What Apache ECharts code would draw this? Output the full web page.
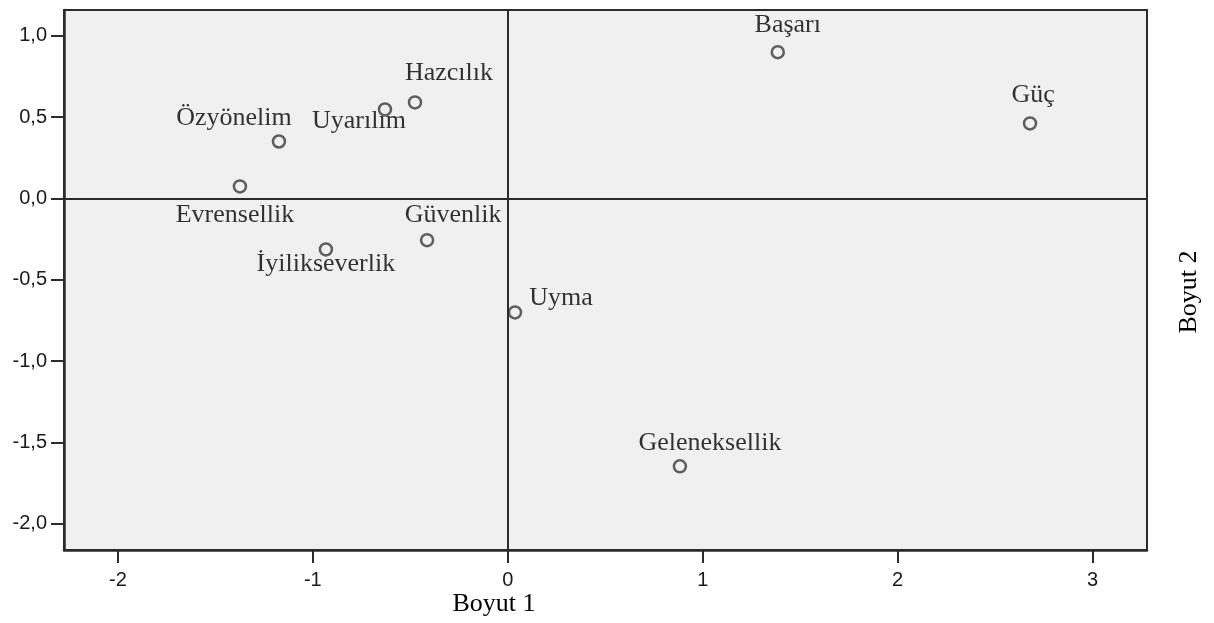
<!DOCTYPE html>
<html>
<head>
<meta charset="utf-8">
<script src="https://cdn.jsdelivr.net/npm/echarts@6/dist/echarts.min.js"></script>
<style>
  html, body { margin: 0; padding: 0; background: #fff; }
  #chart { width: 1214px; height: 623px; }
</style>
</head>
<body>
<div id="chart"></div>
<script>
// değer adları ve koordinatlar (Boyut 1, Boyut 2)
var names = ['Başarı', 'Güç', 'Hazcılık', 'Uyarılım', 'Özyönelim', 'Evrensellik', 'Güvenlik', 'İyilikseverlik', 'Uyma', 'Geleneksellik'];
var dim1 = [1.385, 2.679, -0.476, -0.630, -1.174, -1.374, -0.414, -0.933, 0.037, 0.883];
var dim2 = [0.899, 0.461, 0.590, 0.547, 0.350, 0.074, -0.256, -0.313, -0.700, -1.646];
var xTicks = [-2, -1, 0, 1, 2, 3];
var yTicks = [-2, -1.5, -1, -0.5, 0, 0.5, 1];

// label placement relative to each point (px)
var labelOffsets = [[10, -27], [3, -28], [34, -29], [-26, 12], [-45, -23], [-5, 29], [26, -25], [0, 15], [46, -14], [30, -23]];

var lineColor = '#2b2b2b';

var points = [];
for (var i = 0; i < names.length; i++) {
    points.push({
        name: names[i],
        value: [dim1[i], dim2[i]],
        label: { offset: labelOffsets[i] }
    });
}

var myChart = echarts.init(document.getElementById('chart'));

var option = {
    backgroundColor: '#fff',
    animation: false,
    grid: {
        left: 64,
        right: 67,
        top: 10,
        bottom: 73,
        show: true,
        backgroundColor: '#f0f0f0',
        borderColor: lineColor,
        borderWidth: 2
    },
    xAxis: {
        type: 'value',
        min: -2.2765,
        max: 3.279,
        axisLine: { show: true, onZero: false, lineStyle: { color: lineColor, width: 2.5 } },
        axisTick: { show: true, length: 13, customValues: xTicks, lineStyle: { color: lineColor, width: 2 } },
        axisLabel: {
            customValues: xTicks,
            margin: 20,
            color: '#1a1a1a',
            fontFamily: 'Liberation Sans',
            fontSize: 20
        },
        splitLine: { show: false }
    },
    yAxis: {
        type: 'value',
        min: -2.16,
        max: 1.158,
        axisLine: { show: true, onZero: false, lineStyle: { color: lineColor, width: 2.5 } },
        axisTick: { show: true, length: 13, customValues: yTicks, lineStyle: { color: lineColor, width: 2 } },
        axisLabel: {
            customValues: yTicks,
            margin: 17,
            color: '#1a1a1a',
            fontFamily: 'Liberation Sans',
            fontSize: 20,
            formatter: function (v) {
                return v.toFixed(1).replace('.', ',');
            }
        },
        splitLine: { show: false }
    },
    graphic: [
        {
            type: 'text',
            x: 494,
            y: 604,
            style: {
                text: 'Boyut 1',
                fill: '#000',
                font: '26px "Liberation Serif"',
                align: 'center',
                verticalAlign: 'middle'
            }
        },
        {
            type: 'text',
            x: 1189,
            y: 292,
            rotation: Math.PI / 2,
            style: {
                text: 'Boyut 2',
                fill: '#000',
                font: '26px "Liberation Serif"',
                align: 'center',
                verticalAlign: 'middle'
            }
        }
    ],
    series: [
        {
            type: 'scatter',
            data: points,
            symbol: 'circle',
            symbolSize: 12,
            itemStyle: {
                color: '#f0f0f0',
                borderColor: '#3a3a3a',
                borderWidth: 2.5
            },
            label: {
                show: true,
                position: 'inside',
                formatter: '{b}',
                color: '#000',
                textBorderWidth: 0,
                fontFamily: 'Liberation Serif',
                fontSize: 26
            },
            emphasis: { disabled: true },
            markLine: {
                silent: true,
                symbol: ['none', 'none'],
                label: { show: false },
                lineStyle: { color: lineColor, width: 2, type: 'solid' },
                data: [{ xAxis: 0 }, { yAxis: 0 }]
            },
            z: 3
        }
    ]
};

myChart.setOption(option);
</script>
</body>
</html>
